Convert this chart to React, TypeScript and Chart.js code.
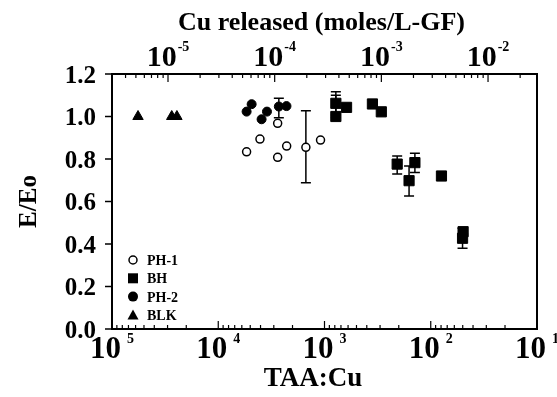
import { useEffect, useRef } from 'react';
import { Chart, registerables } from 'chart.js';
Chart.register(...registerables);

// ---- data (x = TAA:Cu ratio, y = E/Eo) ----
const seriesLabels = ['PH-1', 'BH', 'PH-2', 'BLK'];
const ph1TaaCu = [5410, 4050, 2760, 2760, 2270, 1497, 1090];
const ph1E = [0.834, 0.894, 0.968, 0.808, 0.861, 0.855, 0.889];
const bhTaaCu = [782, 782, 620, 354, 292, 207, 141, 160, 79.3, 49.6, 50.2];
const bhE = [1.062, 1.0, 1.043, 1.059, 1.022, 0.776, 0.783, 0.698, 0.72, 0.458, 0.427];
const ph2TaaCu = [5410, 4850, 3910, 3480, 2690, 2280];
const ph2E = [1.023, 1.058, 0.987, 1.023, 1.047, 1.049];
const blkTaaCu = [56900, 27400, 24500];
const blkE = [1.0, 1.0, 1.0];

// error bars
const errTaaCu = [1497, 2690, 782, 782, 207, 141, 160, 50.2];
const errLow = [0.688, 0.994, 1.007, 0.995, 0.729, 0.736, 0.626, 0.38];
const errHigh = [1.027, 1.086, 1.117, 1.1, 0.814, 0.827, 0.767, 0.474];

// axes
const yTicks = [0, 0.2, 0.4, 0.6, 0.8, 1.0, 1.2];
const yTickLabels = ['0.0', '0.2', '0.4', '0.6', '0.8', '1.0', '1.2'];
const taaExponents = [5, 4, 3, 2, 1];
const cuExponents = [-5, -4, -3, -2];
const taaMin = 10;
const taaMax = 1e5;
const cuMin = Math.pow(10, -5.525);
const cuMax = Math.pow(10, -1.541);
const topTitle = 'Cu released (moles/L-GF)';
const bottomTitle = 'TAA:Cu';
const leftTitle = 'E/Eo';

const FONT = '"Liberation Serif", "Times New Roman", serif';

function txt(ctx: CanvasRenderingContext2D, s: string, x: number, y: number, size: number, align: CanvasTextAlign = 'left', sx = 1) {
  ctx.save();
  ctx.font = `bold ${size}px ${FONT}`;
  ctx.textAlign = align;
  ctx.textBaseline = 'alphabetic';
  ctx.fillStyle = '#000';
  ctx.translate(x, y);
  ctx.scale(sx, 1);
  ctx.fillText(s, 0, 0);
  ctx.restore();
}

function powLabel(ctx: CanvasRenderingContext2D, exp: string, cx: number, baseY: number, big: number, small: number, gap: number) {
  ctx.save();
  ctx.font = `bold ${big}px ${FONT}`;
  const w1 = ctx.measureText('10').width;
  ctx.font = `bold ${small}px ${FONT}`;
  const w2 = ctx.measureText(exp).width;
  ctx.restore();
  const total = w1 + gap + w2;
  const x0 = cx - total / 2;
  txt(ctx, '10', x0, baseY, big, 'left');
  txt(ctx, exp, x0 + w1 + gap, baseY - big * 0.5, small, 'left');
}

function minorValues(min: number, max: number) {
  const out: number[] = [];
  const e0 = Math.floor(Math.log10(min));
  const e1 = Math.ceil(Math.log10(max));
  for (let e = e0; e <= e1; e++) {
    for (let m = 2; m <= 9; m++) {
      const v = m * Math.pow(10, e);
      if (v > min && v < max) out.push(v);
    }
  }
  return out;
}

function marker(ctx: CanvasRenderingContext2D, kind: string, x: number, y: number) {
  ctx.save();
  ctx.fillStyle = '#000';
  ctx.strokeStyle = '#000';
  if (kind === 'open') {
    ctx.lineWidth = 1.5;
    ctx.beginPath();
    ctx.arc(x, y, 4, 0, Math.PI * 2);
    ctx.fillStyle = '#fff';
    ctx.fill();
    ctx.stroke();
  } else if (kind === 'rect') {
    ctx.fillRect(x - 5, y - 5, 10, 10);
  } else if (kind === 'circle') {
    ctx.beginPath();
    ctx.arc(x, y, 5, 0, Math.PI * 2);
    ctx.fill();
  } else {
    ctx.beginPath();
    ctx.moveTo(x, y - 5.5);
    ctx.lineTo(x + 5.5, y + 4.5);
    ctx.lineTo(x - 5.5, y + 4.5);
    ctx.closePath();
    ctx.fill();
  }
  ctx.restore();
}

const customPlugin = {
  id: 'customAxes',
  beforeDatasetsDraw(chart: any) {
    const ctx: CanvasRenderingContext2D = chart.ctx;
    const xs = chart.scales.x;
    const ys = chart.scales.y;
    ctx.save();
    ctx.strokeStyle = '#000';
    ctx.lineWidth = 1.5;
    for (let i = 0; i < errTaaCu.length; i++) {
      const px = xs.getPixelForValue(errTaaCu[i]);
      const y1 = ys.getPixelForValue(errLow[i]);
      const y2 = ys.getPixelForValue(errHigh[i]);
      ctx.beginPath();
      ctx.moveTo(px, y1);
      ctx.lineTo(px, y2);
      ctx.moveTo(px - 5, y1);
      ctx.lineTo(px + 5, y1);
      ctx.moveTo(px - 5, y2);
      ctx.lineTo(px + 5, y2);
      ctx.stroke();
    }
    ctx.restore();
  },
  afterDraw(chart: any) {
    const ctx: CanvasRenderingContext2D = chart.ctx;
    const { left, right, top, bottom } = chart.chartArea;
    const xs = chart.scales.x;
    const x2 = chart.scales.x2;
    const ys = chart.scales.y;
    ctx.save();
    ctx.strokeStyle = '#000';
    // frame
    ctx.lineWidth = 2;
    ctx.strokeRect(left, top, right - left, bottom - top);
    // y ticks (outward)
    ctx.lineWidth = 1.5;
    yTicks.forEach((v, i) => {
      const py = ys.getPixelForValue(v);
      ctx.beginPath();
      ctx.moveTo(left - 7, py);
      ctx.lineTo(left, py);
      ctx.stroke();
      txt(ctx, yTickLabels[i], left - 16, py + 8.5, 25, 'right');
    });
    // bottom ticks (inward)
    ctx.lineWidth = 1.2;
    minorValues(taaMin, taaMax).forEach((v) => {
      const px = xs.getPixelForValue(v);
      ctx.beginPath();
      ctx.moveTo(px, bottom);
      ctx.lineTo(px, bottom - 4);
      ctx.stroke();
    });
    taaExponents.forEach((e) => {
      const px = xs.getPixelForValue(Math.pow(10, e));
      ctx.beginPath();
      ctx.moveTo(px, bottom);
      ctx.lineTo(px, bottom - 8);
      ctx.stroke();
      powLabel(ctx, String(e), px, bottom + 29, 31, 14, 6);
    });
    // top ticks (inward)
    minorValues(cuMin, cuMax).forEach((v) => {
      const px = x2.getPixelForValue(v);
      ctx.beginPath();
      ctx.moveTo(px, top);
      ctx.lineTo(px, top + 4);
      ctx.stroke();
    });
    cuExponents.forEach((e) => {
      const px = x2.getPixelForValue(Math.pow(10, e));
      ctx.beginPath();
      ctx.moveTo(px, top);
      ctx.lineTo(px, top + 8);
      ctx.stroke();
      powLabel(ctx, '-' + String(-e), px, top - 8, 30, 14, 1);
    });
    ctx.restore();
    // titles
    txt(ctx, topTitle, (left + right) / 2 - 3, 30, 26, 'center');
    txt(ctx, bottomTitle, 313, 386, 27, 'center');
    ctx.save();
    ctx.translate(36, (top + bottom) / 2);
    ctx.rotate(-Math.PI / 2);
    txt(ctx, leftTitle, 0, 0, 25, 'center');
    ctx.restore();
    // legend
    const kinds = ['open', 'rect', 'circle', 'tri'];
    seriesLabels.forEach((lab, i) => {
      const ly = 260 + i * 18.3;
      marker(ctx, kinds[i], 133, ly);
      txt(ctx, lab, 147, ly + 5, 14, 'left');
    });
  },
};

export default function App() {
  const ref = useRef<HTMLCanvasElement | null>(null);
  useEffect(() => {
    if (!ref.current) return;
    const pts = (xs: number[], ys: number[]) => xs.map((x, i) => ({ x, y: ys[i] }));
    const chart = new Chart(ref.current, {
      type: 'scatter',
      data: {
        datasets: [
          { label: seriesLabels[0], data: pts(ph1TaaCu, ph1E), pointStyle: 'circle', pointRadius: 4, borderWidth: 1.5, borderColor: '#000', backgroundColor: '#fff' },
          { label: seriesLabels[1], data: pts(bhTaaCu, bhE), pointStyle: 'rect', pointRadius: 7.2, borderWidth: 1, borderColor: '#000', backgroundColor: '#000' },
          { label: seriesLabels[2], data: pts(ph2TaaCu, ph2E), pointStyle: 'circle', pointRadius: 4.5, borderWidth: 1, borderColor: '#000', backgroundColor: '#000' },
          { label: seriesLabels[3], data: pts(blkTaaCu, blkE), pointStyle: 'triangle', pointRadius: 6, borderWidth: 1, borderColor: '#000', backgroundColor: '#000' },
        ],
      },
      options: {
        animation: false,
        responsive: false,
        devicePixelRatio: 1,
        layout: { padding: { left: 112, right: 20, top: 74, bottom: 68 } },
        plugins: { legend: { display: false }, tooltip: { enabled: false } },
        scales: {
          x: { type: 'logarithmic', reverse: true, min: taaMin, max: taaMax, display: false },
          x2: { type: 'logarithmic', position: 'top', min: cuMin, max: cuMax, display: false },
          y: { type: 'linear', min: 0, max: 1.2, display: false },
        },
      },
      plugins: [customPlugin],
    } as any);
    return () => chart.destroy();
  }, []);
  return (
    <div style={{ position: 'fixed', left: 0, top: 0, width: 557, height: 397, background: '#fff' }}>
      <canvas ref={ref} width={557} height={397} style={{ display: 'block' }} />
    </div>
  );
}
